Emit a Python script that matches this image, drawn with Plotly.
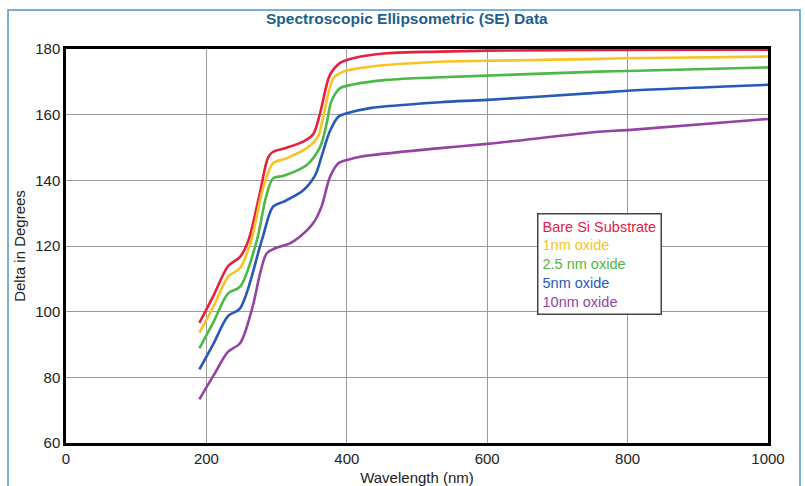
import plotly.graph_objects as go

# ---- data ----
names = ["Bare Si Substrate", "1nm oxide", "2.5 nm oxide", "5nm oxide", "10nm oxide"]
colors = ["#e8203f", "#f6c424", "#4cb847", "#2759b6", "#9443a3"]

bare_x = [190, 210, 231, 248, 260, 276, 288, 295, 312, 338, 352, 362, 376, 390, 409, 457, 533, 600, 760, 1000]
bare_y = [96.6, 104.8, 113.9, 116.7, 121.8, 136.0, 147.0, 148.7, 149.8, 151.8, 154.0, 160.5, 172.1, 175.7, 177.2, 178.7, 179.2, 179.5, 179.7, 179.8]

nm1_x = [190, 210, 231, 248, 264, 280, 295, 314, 343, 359, 366, 381, 395, 433, 533, 600, 760, 800, 1000]
nm1_y = [93.6, 101.5, 110.7, 113.3, 121.8, 137.0, 145.2, 146.7, 149.8, 153.3, 159.0, 171.1, 173.1, 174.6, 176.1, 176.4, 177.0, 177.2, 177.7]

nm25_x = [190, 210, 231, 248, 272, 285, 295, 310, 343, 362, 371, 378, 390, 409, 457, 533, 600, 760, 800, 1000]
nm25_y = [88.8, 96.8, 105.6, 107.6, 121.8, 135.0, 140.6, 141.4, 144.7, 150.2, 157.0, 164.0, 168.0, 169.2, 170.6, 171.4, 171.9, 173.1, 173.3, 174.4]

nm5_x = [190, 210, 231, 248, 279, 295, 310, 338, 355, 364, 376, 388, 400, 433, 533, 600, 760, 800, 1000]
nm5_y = [82.4, 90.2, 98.7, 101.0, 121.8, 132.0, 133.5, 137.0, 141.6, 147.2, 155.0, 159.4, 160.4, 162.0, 163.8, 164.5, 166.7, 167.3, 169.1]

nm10_x = [190, 210, 231, 248, 264, 286, 298, 319, 333, 352, 364, 376, 388, 400, 419, 533, 600, 760, 800, 1000]
nm10_y = [73.3, 80.5, 87.8, 90.4, 100.0, 117.8, 119.3, 120.8, 122.8, 126.9, 132.0, 141.0, 145.2, 146.2, 147.2, 149.8, 151.1, 154.8, 155.3, 158.7]

series = [(bare_x, bare_y), (nm1_x, nm1_y), (nm25_x, nm25_y), (nm5_x, nm5_y), (nm10_x, nm10_y)]

x_ticks = [0, 200, 400, 600, 800, 1000]
y_ticks = [60, 80, 100, 120, 140, 160, 180]

FONT = "Liberation Sans, Arial, sans-serif"

fig = go.Figure()
for (xs, ys), n, c in zip(series, names, colors):
    fig.add_trace(go.Scatter(x=xs, y=ys, mode="lines", name=n,
                             line=dict(color=c, width=2.6, shape="spline", smoothing=0.9),
                             showlegend=False))

legend_text = "<br>".join(f'<span style="color:{c}">{n}</span>' for n, c in zip(names, colors))
fig.add_annotation(xref="paper", yref="paper", x=(537 - 66) / 702, y=(443 - 213) / 394,
                   xanchor="left", yanchor="top", align="left", showarrow=False,
                   text=legend_text, font=dict(family=FONT, size=14.5),
                   bordercolor="#444", borderwidth=1.5, borderpad=4, bgcolor="white")

fig.add_annotation(xref="paper", yref="paper", x=(407 - 66) / 702, y=(443 - 18) / 394,
                   xanchor="center", yanchor="middle", showarrow=False,
                   text="<b>Spectroscopic Ellipsometric (SE) Data</b>",
                   font=dict(family=FONT, size=15.5, color="#1d5f8c"))

# outer light-blue frame
fig.add_shape(type="rect", xref="paper", yref="paper",
              x0=(8 - 66) / 702, x1=(800 - 66) / 702, y0=(443 - 530) / 394, y1=(443 - 10) / 394,
              line=dict(color="#4f93cc", width=1.5), layer="below")

fig.update_layout(
    width=805, height=486,
    margin=dict(l=66, r=37, t=49, b=43),
    paper_bgcolor="white", plot_bgcolor="white",
    font=dict(family=FONT, size=15, color="#222"),
    xaxis=dict(range=[0, 1000], tickvals=x_ticks, showgrid=True, gridcolor="#9a9a9a", gridwidth=1,
               showline=True, linecolor="black", linewidth=2.5, mirror=True, zeroline=False,
               automargin=False, ticks="",
               title=dict(text="Wavelength (nm)", standoff=7, font=dict(size=15))),
    yaxis=dict(range=[60, 180], tickvals=y_ticks, showgrid=True, gridcolor="#9a9a9a", gridwidth=1,
               showline=True, linecolor="black", linewidth=2.5, mirror=True, zeroline=False,
               automargin=False, ticks="",
               title=dict(text="Delta in Degrees", standoff=6, font=dict(size=15))),
)

fig.write_html("out.html")
